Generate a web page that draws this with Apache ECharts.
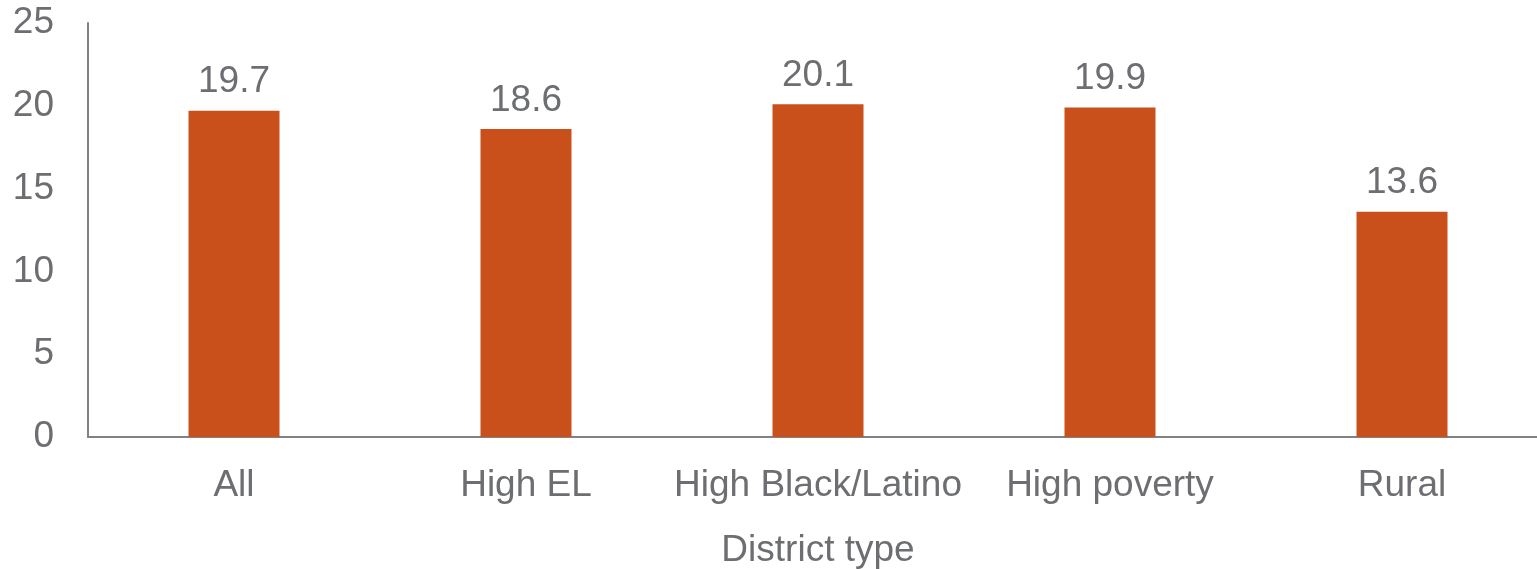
<!DOCTYPE html>
<html><head><meta charset="utf-8">
<script src="https://cdn.jsdelivr.net/npm/echarts@6/dist/echarts.min.js"></script>
<style>html,body{margin:0;padding:0;background:#fff}#c{width:1537px;height:569px}</style>
</head><body><div id="c"></div>
<script>
const categories = ["All", "High EL", "High Black/Latino", "High poverty", "Rural"];
const values = [19.7, 18.6, 20.1, 19.9, 13.6];
const yTicks = [0, 5, 10, 15, 20, 25];
const xAxisTitle = "District type";

const txt = '#6d6e71';
const font = '"Liberation Sans", Arial, sans-serif';
const chart = echarts.init(document.getElementById('c'));
chart.setOption({
  animation: false,
  grid: { left: 88, width: 1460, top: 23, height: 414, containLabel: false, outerBoundsMode: 'none' },
  xAxis: {
    type: 'category', data: categories,
    axisLine: { lineStyle: { color: '#808285', width: 2 } },
    axisTick: { show: false },
    axisLabel: { color: txt, fontSize: 37, fontFamily: font, margin: 30, interval: 0 },
    name: xAxisTitle, nameLocation: 'middle', nameGap: 95,
    nameTextStyle: { color: txt, fontSize: 37, fontFamily: font },
  },
  yAxis: {
    type: 'value', min: yTicks[0], max: yTicks[yTicks.length - 1], interval: 5,
    axisLine: { show: true, lineStyle: { color: '#808285', width: 2 } },
    axisTick: { show: false },
    splitLine: { show: false },
    axisLabel: { color: txt, fontSize: 37, fontFamily: font, margin: 34, padding: [4, 0, 0, 0] },
  },
  series: [{
    type: 'bar', data: values, barWidth: 91,
    itemStyle: { color: '#ca501b' },
    label: { show: true, position: 'top', distance: 10, color: txt, fontSize: 37, fontFamily: font,
      formatter: p => p.value.toFixed(1) },
  }]
});
</script></body></html>
